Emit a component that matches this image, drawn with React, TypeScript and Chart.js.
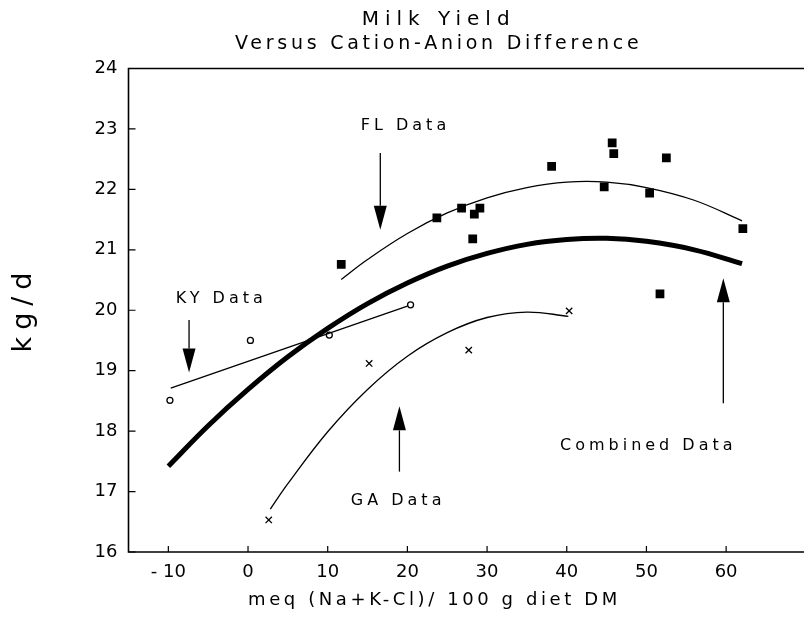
import React, { useEffect, useRef } from 'react';
import { Chart, registerables } from 'chart.js';

Chart.register(...registerables);

// Axis ticks
const xTickValues = [-10, 0, 10, 20, 30, 40, 50, 60];
const yTickValues = [16, 17, 18, 19, 20, 21, 22, 23, 24];

// FL data (filled squares)
const flX = [11.7, 23.7, 26.8, 29.1, 28.4, 28.2, 38.1, 45.7, 45.9, 44.7, 52.5, 50.4, 62.1, 51.7];
const flY = [20.76, 21.53, 21.69, 21.69, 21.59, 21.18, 22.38, 22.77, 22.59, 22.04, 22.52, 21.94, 21.35, 20.27];

// KY data (open circles)
const kyX = [-9.8, 0.3, 10.2, 20.4];
const kyY = [18.51, 19.5, 19.59, 20.09];

// GA data (crosses)
const gaX = [2.6, 15.2, 27.7, 40.3];
const gaY = [16.53, 19.12, 19.34, 19.99];

// Fitted curves
const combinedFitX = [-10, -5, 0, 5, 10, 15, 20, 25, 30, 35, 40, 45, 50, 56, 62];
const combinedFitY = [17.42, 18.09, 18.69, 19.23, 19.7, 20.11, 20.45, 20.73, 20.94, 21.09, 21.17, 21.19, 21.14, 21.0, 20.77];
const flFitX = [11.7, 15, 20, 25, 30, 35, 40, 45, 50, 56, 62];
const flFitY = [20.51, 20.84, 21.27, 21.61, 21.86, 22.03, 22.12, 22.12, 22.03, 21.82, 21.48];
const gaFitX = [2.8, 5, 10, 15, 20, 25, 30, 35, 40.2];
const gaFitY = [16.71, 17.13, 17.99, 18.69, 19.24, 19.63, 19.88, 19.97, 19.9];
const kyFitX = [-9.7, 20.0];
const kyFitY = [18.71, 20.07];

// Annotations (labels and arrows)
const annotationLabels = ['FL Data', 'KY Data', 'GA Data', 'Combined Data'];
const labelX = [14.15, -9.06, 12.9, 39.15];
const labelY = [22.98, 20.12, 16.78, 17.69];
const arrowX = [16.6, -7.4, 19.0, 59.65];
const arrowTail = [22.6, 19.84, 17.33, 18.46];
const arrowTip = [21.33, 18.97, 18.41, 20.53];

const titleLines = ['Milk Yield', 'Versus Cation-Anion Difference'];
const xTitle = 'meq (Na+K-Cl)/ 100 g diet DM';
const yTitle = 'kg/d';

const FONT = "'DejaVu Sans', sans-serif";

const pts = (xs: number[], ys: number[]) => xs.map((x, i) => ({ x, y: ys[i] }));

const drawSpaced = (ctx: any, text: string, x: number, y: number, font: string, ls: number) => {
  ctx.font = font;
  ctx.letterSpacing = ls + 'px';
  ctx.fillText(text, x, y);
  ctx.letterSpacing = '0px';
};

const overlayPlugin = {
  id: 'overlay',
  afterDraw(chart: any) {
    const { ctx, chartArea: a, scales } = chart;
    const xs = scales.x;
    const ys = scales.y;
    ctx.save();
    ctx.strokeStyle = '#000';
    ctx.fillStyle = '#000';
    // frame
    ctx.lineWidth = 1.6;
    ctx.beginPath();
    ctx.moveTo(a.right, a.top);
    ctx.lineTo(a.left, a.top);
    ctx.lineTo(a.left, a.bottom);
    ctx.lineTo(a.right, a.bottom);
    ctx.stroke();
    // inward ticks
    ctx.lineWidth = 1.2;
    ctx.beginPath();
    yTickValues.forEach((v) => {
      const py = ys.getPixelForValue(v);
      ctx.moveTo(a.left, py);
      ctx.lineTo(a.left + 7, py);
    });
    xTickValues.forEach((v) => {
      const px = xs.getPixelForValue(v);
      ctx.moveTo(px, a.bottom);
      ctx.lineTo(px, a.bottom - 6);
    });
    ctx.stroke();
    // arrows
    arrowX.forEach((ax, i) => {
      const px = xs.getPixelForValue(ax);
      const tail = ys.getPixelForValue(arrowTail[i]);
      const tip = ys.getPixelForValue(arrowTip[i]);
      const dir = tip > tail ? 1 : -1;
      const headLen = 24;
      const half = 6.5;
      const base = tip - dir * headLen;
      ctx.lineWidth = 1.3;
      ctx.beginPath();
      ctx.moveTo(px, tail);
      ctx.lineTo(px, base);
      ctx.stroke();
      ctx.beginPath();
      ctx.moveTo(px, tip);
      ctx.lineTo(px - half, base);
      ctx.lineTo(px + half, base);
      ctx.closePath();
      ctx.fill();
    });
    // annotation labels
    ctx.textAlign = 'left';
    ctx.textBaseline = 'alphabetic';
    annotationLabels.forEach((t, i) => {
      drawSpaced(ctx, t, xs.getPixelForValue(labelX[i]), ys.getPixelForValue(labelY[i]), `16px ${FONT}`, 4);
    });
    // titles
    drawSpaced(ctx, titleLines[0], 361.7, 25, `20px ${FONT}`, 6);
    drawSpaced(ctx, titleLines[1], 235, 48.5, `19px ${FONT}`, 3.75);
    drawSpaced(ctx, xTitle, 248, 605, `18px ${FONT}`, 3.6);
    // y title
    ctx.save();
    ctx.translate(24, 313);
    ctx.rotate(-Math.PI / 2);
    ctx.textAlign = 'center';
    ctx.textBaseline = 'middle';
    drawSpaced(ctx, yTitle, 4, 0, `27px ${FONT}`, 7);
    ctx.restore();
    ctx.restore();
  },
};

export default function App() {
  const ref = useRef<HTMLCanvasElement>(null);
  useEffect(() => {
    if (!ref.current) return;
    const lineBase = {
      type: 'line' as const,
      showLine: true,
      pointRadius: 0,
      borderColor: '#000',
      backgroundColor: '#000',
      tension: 0.4,
      fill: false,
    };
    const chart = new Chart(ref.current, {
      type: 'scatter',
      data: {
        datasets: [
          { ...lineBase, label: 'Combined fit', data: pts(combinedFitX, combinedFitY), borderWidth: 5 },
          { ...lineBase, label: 'FL fit', data: pts(flFitX, flFitY), borderWidth: 1.3 },
          { ...lineBase, label: 'GA fit', data: pts(gaFitX, gaFitY), borderWidth: 1.3 },
          { ...lineBase, label: 'KY fit', data: pts(kyFitX, kyFitY), borderWidth: 1.3 },
          {
            label: 'FL Data',
            data: pts(flX, flY),
            pointStyle: 'rect',
            pointRadius: 6.2,
            backgroundColor: '#000',
            borderColor: '#000',
            borderWidth: 0,
          },
          {
            label: 'KY Data',
            data: pts(kyX, kyY),
            pointStyle: 'circle',
            pointRadius: 3,
            backgroundColor: '#fff',
            borderColor: '#000',
            borderWidth: 1.3,
          },
          {
            label: 'GA Data',
            data: pts(gaX, gaY),
            pointStyle: 'crossRot',
            pointRadius: 4.5,
            backgroundColor: '#000',
            borderColor: '#000',
            borderWidth: 1.3,
          },
        ],
      },
      options: {
        animation: false,
        responsive: false,
        devicePixelRatio: 1,
        layout: { padding: { top: 68.5, right: 3.5, left: 0, bottom: 0 } },
        plugins: { legend: { display: false }, title: { display: false }, tooltip: { enabled: false } },
        scales: {
          x: {
            type: 'linear',
            min: -15,
            max: 70,
            grid: { display: false, drawTicks: false },
            border: { display: false },
            afterBuildTicks: (scale: any) => {
              scale.ticks = xTickValues.map((v) => ({ value: v }));
            },
            afterFit: (scale: any) => {
              scale.height = 66;
            },
            ticks: {
              padding: 10,
              color: '#000',
              font: { family: FONT, size: 18 },
              maxRotation: 0,
              callback: (v: any) => (v < 0 ? '- ' + Math.abs(v) : String(v)),
            },
          },
          y: {
            type: 'linear',
            min: 16,
            max: 24,
            grid: { display: false, drawTicks: false },
            border: { display: false },
            afterBuildTicks: (scale: any) => {
              scale.ticks = yTickValues.map((v) => ({ value: v }));
            },
            afterFit: (scale: any) => {
              scale.width = 128.5;
            },
            ticks: {
              padding: 11,
              color: '#000',
              font: { family: FONT, size: 18 },
            },
          },
        },
      },
      plugins: [overlayPlugin],
    } as any);
    return () => chart.destroy();
  }, []);
  return (
    <div style={{ position: 'fixed', left: 0, top: 0, width: 804, height: 618, overflow: 'hidden', background: '#fff' }}>
      <canvas ref={ref} width={812} height={618} style={{ display: 'block' }} />
    </div>
  );
}
